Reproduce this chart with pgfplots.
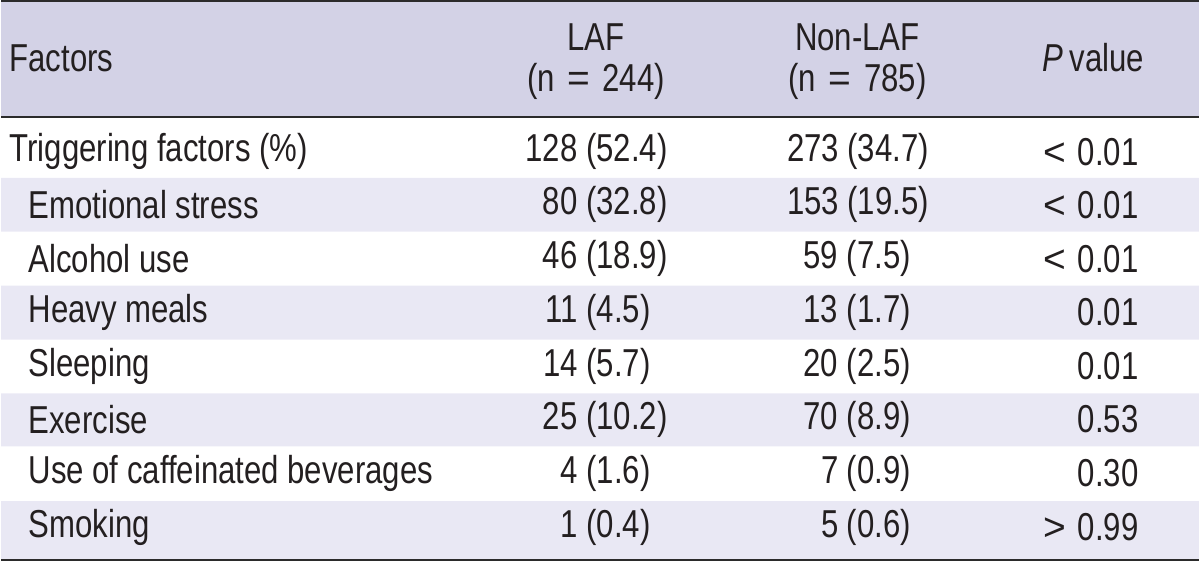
\documentclass[border=0pt]{standalone}
\usepackage{pgfplots}
\pgfplotsset{compat=1.18}
\usepackage{fontspec}
\setmainfont{Liberation Sans}[FakeStretch=0.8]
\newfontfamily\wide{Liberation Sans}
\definecolor{hdr}{HTML}{D3D2E6}
\definecolor{strp}{HTML}{E9E8F4}
\definecolor{txt}{HTML}{231F20}
\definecolor{rule}{HTML}{2B2B2B}
\tikzset{cell/.style={font=\fontsize{19.5}{22}\selectfont, text=txt, inner sep=0pt}}
\newcommand{\weq}{\hspace{0.1em}{\wide =}\hspace{0.1em}}
\newcommand{\wlt}{{\wide <}\hspace{0.3em}}
\newcommand{\wgt}{{\wide >}\hspace{0.3em}}
\begin{document}
\begin{tikzpicture}
\begin{axis}[
  width=600pt, height=281.5pt, scale only axis,
  xmin=0, xmax=1200, ymin=0, ymax=563, y dir=reverse,
  hide axis, clip=false,
]
% backgrounds
\addplot[fill=hdr, draw=none] coordinates {(0,1) (1200,1) (1200,117) (0,117) (0,1)};
\addplot[fill=strp, draw=none] coordinates {(0,178) (1200,178) (1200,232) (0,232) (0,178)};
\addplot[fill=strp, draw=none] coordinates {(0,286) (1200,286) (1200,340) (0,340) (0,286)};
\addplot[fill=strp, draw=none] coordinates {(0,394) (1200,394) (1200,447) (0,447) (0,394)};
\addplot[fill=strp, draw=none] coordinates {(0,502) (1200,502) (1200,561) (0,561) (0,502)};
% rules
\addplot[draw=rule, line width=1.2pt] coordinates {(0,1) (1200,1)};
\addplot[draw=rule, line width=1pt] coordinates {(0,117) (1200,117)};
\addplot[draw=rule, line width=1.2pt] coordinates {(0,561) (1200,561)};
% header
\node[cell, anchor=west] at (axis cs:8,58) {Factors};
\node[cell] at (axis cs:596,37) {LAF};
\node[cell] at (axis cs:596,81) {(n \weq\ 244)};
\node[cell] at (axis cs:858,37) {Non-LAF};
\node[cell] at (axis cs:858,81) {(n \weq\ 785)};
\node[cell] at (axis cs:1094,58) {\textit{P}\,value};
% row labels
\node[cell, anchor=west] at (axis cs:8,152) {Triggering factors (\%)};
\node[cell, anchor=west] at (axis cs:27,205) {Emotional stress};
\node[cell, anchor=west] at (axis cs:27,259) {Alcohol use};
\node[cell, anchor=west] at (axis cs:27,313) {Heavy meals};
\node[cell, anchor=west] at (axis cs:27,367) {Sleeping};
\node[cell, anchor=west] at (axis cs:27,420) {Exercise};
\node[cell, anchor=west] at (axis cs:27,474) {Use of caffeinated beverages};
\node[cell, anchor=west] at (axis cs:27,528) {Smoking};
% LAF
\node[cell, anchor=east] at (axis cs:668,152) {128 (52.4)};
\node[cell, anchor=east] at (axis cs:668,205) {80 (32.8)};
\node[cell, anchor=east] at (axis cs:668,259) {46 (18.9)};
\node[cell, anchor=east] at (axis cs:651,313) {11 (4.5)};
\node[cell, anchor=east] at (axis cs:651,367) {14 (5.7)};
\node[cell, anchor=east] at (axis cs:668,420) {25 (10.2)};
\node[cell, anchor=east] at (axis cs:651,474) {4 (1.6)};
\node[cell, anchor=east] at (axis cs:651,528) {1 (0.4)};
% Non-LAF
\node[cell, anchor=east] at (axis cs:930,152) {273 (34.7)};
\node[cell, anchor=east] at (axis cs:930,205) {153 (19.5)};
\node[cell, anchor=east] at (axis cs:912,259) {59 (7.5)};
\node[cell, anchor=east] at (axis cs:912,313) {13 (1.7)};
\node[cell, anchor=east] at (axis cs:912,367) {20 (2.5)};
\node[cell, anchor=east] at (axis cs:912,420) {70 (8.9)};
\node[cell, anchor=east] at (axis cs:912,474) {7 (0.9)};
\node[cell, anchor=east] at (axis cs:912,528) {5 (0.6)};
% P value
\node[cell, anchor=east] at (axis cs:1140,152) {\wlt 0.01};
\node[cell, anchor=east] at (axis cs:1140,205) {\wlt 0.01};
\node[cell, anchor=east] at (axis cs:1140,259) {\wlt 0.01};
\node[cell, anchor=east] at (axis cs:1140,313) {0.01};
\node[cell, anchor=east] at (axis cs:1140,367) {0.01};
\node[cell, anchor=east] at (axis cs:1140,420) {0.53};
\node[cell, anchor=east] at (axis cs:1140,474) {0.30};
\node[cell, anchor=east] at (axis cs:1140,528) {\wgt 0.99};
\end{axis}
\end{tikzpicture}
\end{document}
